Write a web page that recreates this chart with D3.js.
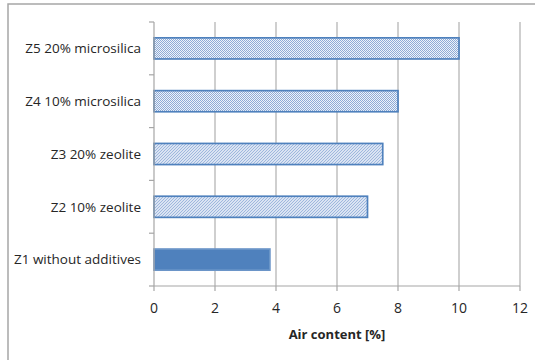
<!DOCTYPE html>
<html><head><meta charset="utf-8">
<script src="https://cdn.jsdelivr.net/npm/d3@7"></script>
<style>body{margin:0;background:#fff}svg{display:block}</style>
</head><body>
<script>
const categories = ["Z1 without additives","Z2 10% zeolite","Z3 20% zeolite","Z4 10% microsilica","Z5 20% microsilica"];
const values = [3.8, 7.0, 7.5, 8.0, 10.0];
const fills = ["solid","hatch","hatch","dots","dots"];
const xTicks = [0,2,4,6,8,10,12];
const xTitle = "Air content [%]";

(function(){
const W = 535, H = 360;
const svg = d3.select("body").append("svg").attr("width", W).attr("height", H);
const defs = svg.append("defs");
const dots = defs.append("pattern").attr("id","dots").attr("patternUnits","userSpaceOnUse").attr("width",2).attr("height",2);
dots.append("rect").attr("width",2).attr("height",2).attr("fill","#eef3fa");
dots.append("rect").attr("width",1).attr("height",1).attr("fill","#8fabd6");
dots.append("rect").attr("x",1).attr("y",1).attr("width",1).attr("height",1).attr("fill","#8fabd6");
const hatch = defs.append("pattern").attr("id","hatch").attr("patternUnits","userSpaceOnUse").attr("width",3).attr("height",3);
hatch.append("rect").attr("width",3).attr("height",3).attr("fill","#f4f7fc");
hatch.append("path").attr("d","M-1,1 l2,-2 M0,3 l3,-3 M2,4 l2,-2").attr("stroke","#9ab4dc").attr("stroke-width",1.1);

const font = "'Open Sans', sans-serif";
svg.append("rect").attr("x",8).attr("y",4).attr("width",600).attr("height",400)
  .attr("fill","none").attr("stroke","#a6a6a6").attr("stroke-width",1.5);

const pl = 154, pr = 520, pt = 22, pb = 286;
const x = d3.scaleLinear().domain([0,12]).range([pl,pr]);
const y = d3.scaleBand().domain(categories.slice().reverse()).range([pt,pb]).paddingInner(0.6).paddingOuter(0.3);
const yb = d3.scaleBand().domain(categories.slice().reverse()).range([pt,pb]);

svg.append("g").selectAll("line").data(xTicks.slice(1)).join("line")
  .attr("x1",d=>x(d)).attr("x2",d=>x(d)).attr("y1",pt).attr("y2",pb)
  .attr("stroke","#bfbfbf").attr("stroke-width",1.5);

svg.append("g").selectAll("rect").data(categories).join("rect")
  .attr("x",x(0)).attr("y",d=>y(d)).attr("height",y.bandwidth())
  .attr("width",(d,i)=>x(values[i])-x(0))
  .attr("fill",(d,i)=>fills[i]==="solid"?"#4f81bd":`url(#${fills[i]})`)
  .attr("stroke",(d,i)=>fills[i]==="solid"?"#6b95c8":"#4f81bd").attr("stroke-width",1.7);

const ya = svg.append("g").attr("transform",`translate(${pl},0)`);
ya.append("line").attr("x1",0).attr("x2",0).attr("y1",pt).attr("y2",pb).attr("stroke","#a6a6a6").attr("stroke-width",1.2);
const ytickPos = yb.domain().map(d=>yb(d)).concat([pb]);
ya.selectAll("line.t").data(ytickPos).join("line").attr("class","t")
  .attr("x1",-5).attr("x2",0).attr("y1",d=>d).attr("y2",d=>d).attr("stroke","#a6a6a6").attr("stroke-width",1.2);
ya.selectAll("text").data(categories).join("text")
  .attr("x",-13).attr("y",d=>yb(d)+yb.bandwidth()/2).attr("dy","0.35em")
  .attr("text-anchor","end").attr("font-family",font).attr("font-size",13.5).attr("fill","#262626").text(d=>d);

const xa = svg.append("g");
xa.append("line").attr("x1",pl).attr("x2",pr).attr("y1",pb).attr("y2",pb).attr("stroke","#a6a6a6").attr("stroke-width",1.2);
xa.selectAll("line.t").data(xTicks).join("line").attr("class","t")
  .attr("x1",d=>x(d)).attr("x2",d=>x(d)).attr("y1",pb).attr("y2",pb+5).attr("stroke","#a6a6a6").attr("stroke-width",1.2);
xa.selectAll("text").data(xTicks).join("text")
  .attr("x",d=>x(d)).attr("y",308).attr("dy","0.35em").attr("text-anchor","middle")
  .attr("font-family",font).attr("font-size",14).attr("fill","#262626").text(d=>d);
svg.append("text").attr("x",(pl+pr)/2).attr("y",334).attr("dy","0.35em").attr("text-anchor","middle")
  .attr("font-family",font).attr("font-size",13).attr("font-weight","bold").attr("fill","#262626").text(xTitle);
})();
</script>
</body></html>
